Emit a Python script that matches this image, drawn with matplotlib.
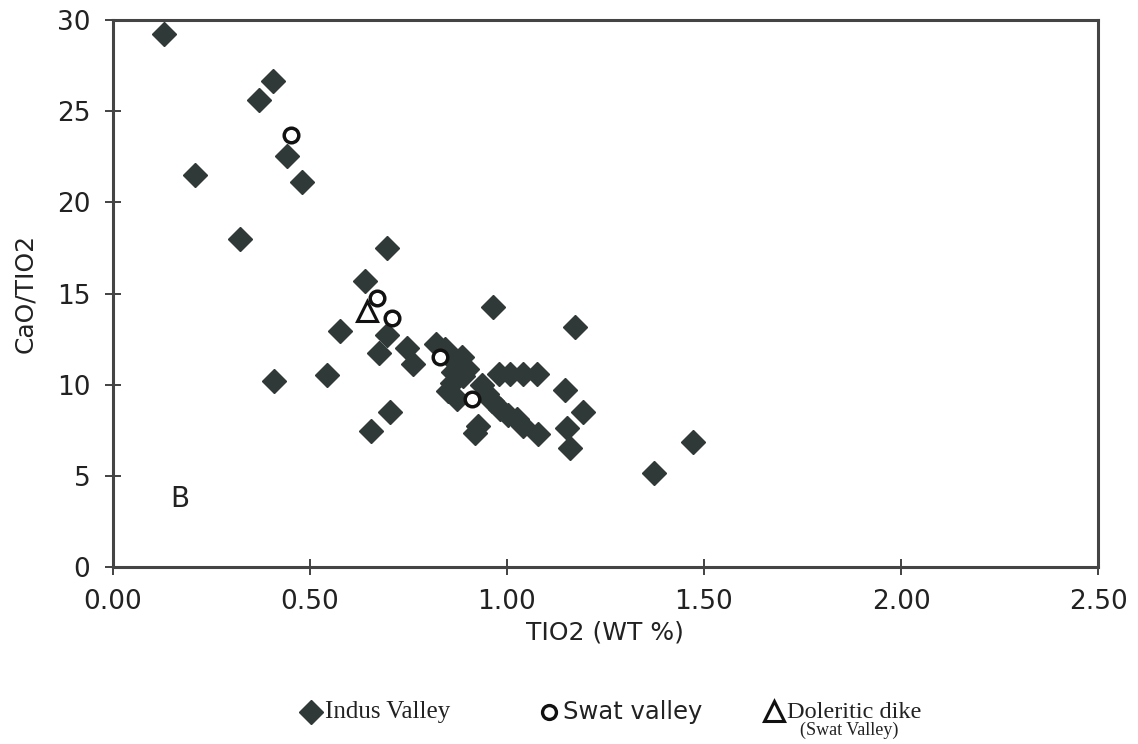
import matplotlib
matplotlib.use('Agg')
import matplotlib.pyplot as plt
from matplotlib.lines import Line2D

# Indus Valley samples (TiO2 wt%, CaO/TiO2)
indus_x = [0.130, 0.406, 0.372, 0.443, 0.480, 0.209, 0.323, 0.695, 0.640, 0.965,
           1.173, 0.577, 0.696, 0.676, 0.747, 0.762, 0.544, 0.410, 0.704, 0.656,
           1.148, 1.194, 1.153, 1.161, 1.079, 1.374, 1.473,
           0.819, 0.844, 0.865, 0.887, 0.860, 0.889, 0.851, 0.873, 0.937, 0.962,
           0.983, 1.003, 1.025, 1.042, 0.927, 0.920, 0.949, 0.898, 0.864,
           0.979, 1.008, 1.042, 1.076]
indus_y = [29.24, 26.65, 25.6, 22.56, 21.1, 21.5, 18.0, 17.5, 15.69, 14.25,
           13.15, 12.93, 12.71, 11.72, 12.0, 11.12, 10.51, 10.2, 8.48, 7.48,
           9.69, 8.48, 7.6, 6.55, 7.3, 5.17, 6.88,
           12.22, 11.94, 11.3, 11.5, 10.1, 10.47, 9.65, 9.19, 10.0, 9.1,
           8.64, 8.36, 8.09, 7.72, 7.72, 7.36, 9.47, 10.84, 10.67,
           10.57, 10.57, 10.57, 10.57]

# Swat valley samples
swat_x = [0.453, 0.671, 0.709, 0.831, 0.911]
swat_y = [23.7, 14.75, 13.65, 11.54, 9.23]

# Doleritic dike (Swat Valley)
dike_x = [0.645]
dike_y = [14.03]

x_ticks = [0.0, 0.5, 1.0, 1.5, 2.0, 2.5]
y_ticks = [0, 5, 10, 15, 20, 25, 30]

dark = '#2f3a38'

fig = plt.figure(figsize=(11.38, 7.44), dpi=100)
ax = fig.add_axes([0.099, 0.238, 0.866, 0.735])

ax.plot(indus_x, indus_y, 'D', ms=12.5, color=dark, mec=dark, ls='none', zorder=3)
ax.plot(swat_x, swat_y, 'o', ms=10.5, mfc='white', mec='#111111', mew=2.5, ls='none', zorder=4)
ax.plot(dike_x, dike_y, '^', ms=15, mfc='none', mec='#111111', mew=2.2, ls='none', zorder=4)

ax.text(0.145, 3.7, 'B', fontsize=20, va='center', ha='left', color='#222222')

ax.set_xlim(0, 2.5)
ax.set_ylim(0, 30)
ax.set_xticks(x_ticks)
ax.set_xticklabels(['{:.2f}'.format(v) for v in x_ticks])
ax.set_yticks(y_ticks)
ax.tick_params(direction='inout', length=12, width=1.2, labelsize=19, pad=10,
               colors='#222222')
for s in ax.spines.values():
    s.set_linewidth(2.2)
    s.set_color('#444444')

ax.set_xlabel('TIO2 (WT %)', fontsize=18, labelpad=4, color='#222222')
ax.set_ylabel('CaO/TIO2', fontsize=18, labelpad=14, color='#222222')

# legend drawn below the axes
fig.add_artist(Line2D([0.273], [0.043], marker='D', ms=12, color=dark, transform=fig.transFigure))
fig.text(0.286, 0.043, 'Indus Valley', fontsize=18, family='Liberation Serif', va='center', color='#222222')
fig.add_artist(Line2D([0.482], [0.043], marker='o', ms=10, mfc='white', mec='#111111', mew=2.4,
                      transform=fig.transFigure))
fig.text(0.495, 0.043, 'Swat valley', fontsize=17.5, va='center', color='#222222')
fig.add_artist(Line2D([0.680], [0.045], marker='^', ms=14, mfc='none', mec='#111111', mew=2.2,
                      transform=fig.transFigure))
fig.text(0.692, 0.043, 'Doleritic dike', fontsize=17.5, family='Liberation Serif', va='center', color='#222222')
fig.text(0.703, 0.019, '(Swat Valley)', fontsize=13, family='Liberation Serif', va='center', color='#222222')

fig.savefig('out.png', dpi=100)
